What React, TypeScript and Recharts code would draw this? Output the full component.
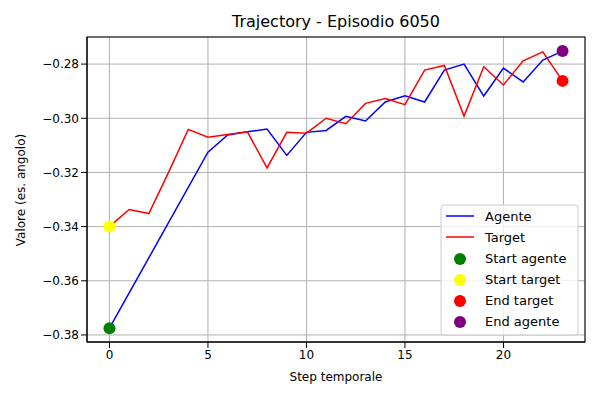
import React from "react";
import { ComposedChart, Line, Scatter, XAxis, YAxis, CartesianGrid } from "recharts";

const steps = Array.from({ length: 24 }, (_, i) => i);
const agente: (number | null)[] = [-0.3775, null, null, null, null, -0.3125, -0.3062, -0.305, -0.304, -0.3137, -0.3052, -0.3045, -0.2993, -0.301, -0.294, -0.2917, -0.294, -0.2822, -0.28, -0.2918, -0.2815, -0.2866, -0.2785, -0.2752];
const target = [-0.34, -0.3337, -0.3352, -0.32, -0.3041, -0.307, -0.306, -0.305, -0.3183, -0.3052, -0.3055, -0.3, -0.302, -0.2945, -0.2927, -0.295, -0.2822, -0.2805, -0.2992, -0.281, -0.2877, -0.2788, -0.2755, -0.2862];
const xTicks = [0, 5, 10, 15, 20];
const yTicks = [-0.38, -0.36, -0.34, -0.32, -0.3, -0.28];

const data = steps.map((s, i) => ({ s, a: agente[i], t: target[i] }));
const startA = [{ s: 0, v: agente[0] }];
const startT = [{ s: 0, v: target[0] }];
const endT = [{ s: 23, v: target[23] }];
const endA = [{ s: 23, v: agente[23] }];

const legendItems = [
  { label: "Agente", type: "line", color: "blue" },
  { label: "Target", type: "line", color: "red" },
  { label: "Start agente", type: "dot", color: "green" },
  { label: "Start target", type: "dot", color: "yellow" },
  { label: "End target", type: "dot", color: "red" },
  { label: "End agente", type: "dot", color: "purple" },
];

const dot = (color: string) => (p: any) => <circle cx={p.cx} cy={p.cy} r={6} fill={color} />;

export default function App() {
  const font = "DejaVu Sans";
  return (
    <div style={{ position: "relative", width: 600, height: 400, fontFamily: font, background: "#fff", marginLeft: -8, marginTop: -8 }}>
      <div style={{ position: "absolute", top: 12, left: 87, width: 498, textAlign: "center", fontSize: 16 }}>Trajectory - Episodio 6050</div>
      <ComposedChart width={600} height={400} data={data} margin={{ top: 37, right: 15, bottom: 28, left: 0 }} style={{ position: "absolute", top: 0, left: 0 }}>
        <CartesianGrid stroke="#b0b0b0" strokeWidth={1} />
        <XAxis dataKey="s" type="number" domain={[-1.14, 24.14]} ticks={xTicks} height={30} stroke="#000" tick={{ fill: "#000", fontSize: 12, fontFamily: font }} tickLine={{ stroke: "#000" }} allowDataOverflow />
        <YAxis type="number" domain={[-0.3826, -0.27]} ticks={yTicks} width={87} stroke="#000" tick={{ fill: "#000", fontSize: 12, fontFamily: font }} tickFormatter={(v: number) => v.toFixed(2).replace("-", "−")} allowDataOverflow />
        <Line dataKey="a" stroke="blue" strokeWidth={1.5} dot={false} connectNulls isAnimationActive={false} />
        <Line dataKey="t" stroke="red" strokeWidth={1.5} dot={false} isAnimationActive={false} />
        <Scatter data={startA} dataKey="v" shape={dot("green")} isAnimationActive={false} />
        <Scatter data={startT} dataKey="v" shape={dot("yellow")} isAnimationActive={false} />
        <Scatter data={endT} dataKey="v" shape={dot("red")} isAnimationActive={false} />
        <Scatter data={endA} dataKey="v" shape={dot("purple")} isAnimationActive={false} />
      </ComposedChart>
      <svg width={600} height={400} style={{ position: "absolute", top: 0, left: 0, pointerEvents: "none" }}>
        <rect x={87} y={37} width={498} height={305} fill="none" stroke="#000" strokeWidth={1} />
        <text x={336} y={381} textAnchor="middle" fontSize={12} fontFamily={font}>Step temporale</text>
        <text x={25} y={190} transform="rotate(-90 25 190)" textAnchor="middle" fontSize={12} fontFamily={font}>Valore (es. angolo)</text>
        <rect x={441} y={205} width={137} height={130} rx={3} fill="#fff" fillOpacity={0.8} stroke="#ccc" />
        {legendItems.map((it, i) => {
          const y = 216 + i * 21;
          return (
            <g key={it.label}>
              {it.type === "line" ? <line x1={446} x2={474} y1={y} y2={y} stroke={it.color} strokeWidth={1.5} /> : <circle cx={460} cy={y + 1} r={6} fill={it.color} />}
              <text x={485} y={y + 5} fontSize={13} fontFamily={font}>{it.label}</text>
            </g>
          );
        })}
      </svg>
    </div>
  );
}
